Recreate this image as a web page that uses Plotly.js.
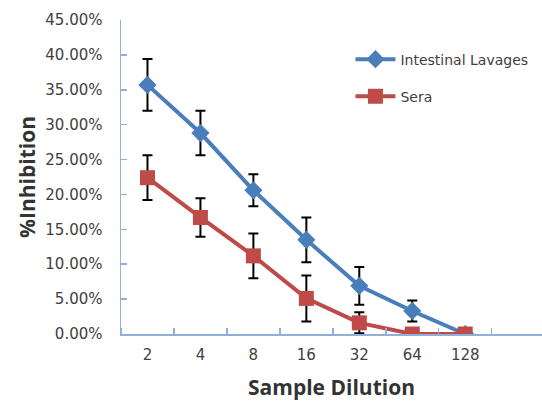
<!DOCTYPE html>
<html><head><meta charset="utf-8">
<script src="https://cdn.plot.ly/plotly-3.0.1.min.js"></script>
<style>html,body{margin:0;padding:0;background:#fff}#c{width:542px;height:404px}</style>
</head><body><div id="c"></div>
<script>
const dilutions = ["2","4","8","16","32","64","128"];
const lavages = [0.357, 0.288, 0.206, 0.135, 0.069, 0.033, 0.0];
const lavagesErr = [0.037, 0.032, 0.023, 0.032, 0.027, 0.015, 0];
const sera = [0.224, 0.167, 0.112, 0.051, 0.016, 0.0, 0.0];
const seraErr = [0.032, 0.0275, 0.032, 0.033, 0.015, 0, 0];

const xs = dilutions.map((d,i)=>i);
const errStyle = {type:'data', visible:true, color:'#000', thickness:2, width:5};

const traces = [
  {x: xs, y: lavages, name:'Intestinal Lavages', legendgroup:'a', type:'scatter', mode:'lines+markers',
   line:{color:'#4a7ebb', width:4}, marker:{symbol:'diamond', size:14, color:'#4a7ebb'},
   error_y: Object.assign({array: lavagesErr}, errStyle)},
  {x: xs, y: sera, name:'Sera', legendgroup:'b', type:'scatter', mode:'lines+markers',
   line:{color:'#be4b48', width:4}, marker:{symbol:'square', size:15, color:'#be4b48'},
   error_y: Object.assign({array: seraErr}, errStyle)}
];

const axisColor = '#8fb0d8';
const tickFont = {family:'DejaVu Sans, sans-serif', size:15, color:'#404040'};
const layout = {
  width:542, height:404,
  margin:{l:121, r:0, t:20, b:70},
  paper_bgcolor:'#fff', plot_bgcolor:'#fff',
  font:{family:'Open Sans, sans-serif', color:'#404040', size:14},
  showlegend:true,
  legend:{x:0.545, y:0.925, xanchor:'left', yanchor:'top',
          font:{family:'DejaVu Sans, sans-serif', size:14, color:'#404040'},
          bgcolor:'rgba(0,0,0,0)', itemwidth:40, tracegroupgap:16},
  xaxis:{range:[-0.5, 7.45], tickvals: xs, ticktext: dilutions, ticks:'', showgrid:false,
         zeroline:false, showline:true, linecolor:axisColor, linewidth:1.5,
         tickfont:tickFont, ticklabelstandoff:6,
         minor:{tick0:-0.5, dtick:1, ticks:'inside', ticklen:6, tickcolor:axisColor, tickwidth:1.5, showgrid:false},
         title:{text:'Sample Dilution', font:{size:21, color:'#333', weight:'bold'}, standoff:18}},
  yaxis:{range:[0, 0.45], dtick:0.05, tick0:0, tickformat:'.2%', ticks:'inside', ticklen:6,
         tickcolor:axisColor, tickwidth:1.5, showgrid:false, zeroline:false, showline:true,
         linecolor:axisColor, linewidth:1.5, tickfont:tickFont, ticklabelstandoff:14,
         title:{text:'%Inhibition', font:{size:21, color:'#333', weight:'bold'}, standoff:4}}
};
Plotly.newPlot('c', traces, layout, {displayModeBar:false, staticPlot:true});
</script></body></html>
